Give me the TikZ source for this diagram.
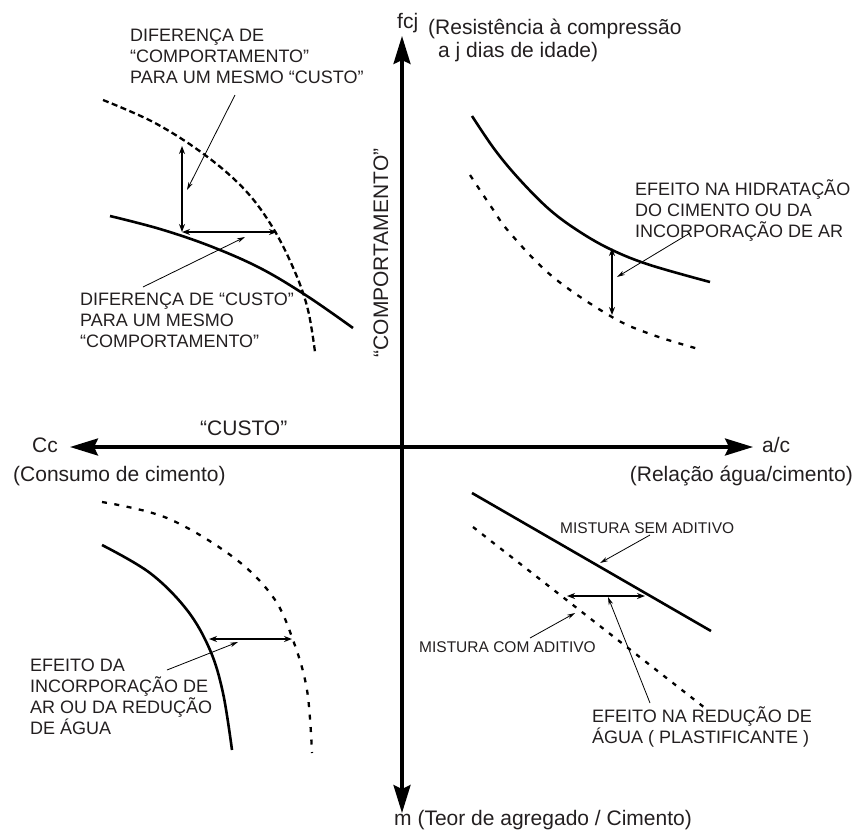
\documentclass[tikz,border=0pt]{standalone}
\usepackage{fontspec}
\setmainfont{Liberation Sans}
\usetikzlibrary{arrows.meta}
\definecolor{ink}{HTML}{231F20}

\begin{document}
\begin{tikzpicture}[x=1pt,y=-1pt,
  axis/.style={line width=3.3pt,
    {Stealth[length=28pt,width=17pt,inset=4pt]}-{Stealth[length=28pt,width=17pt,inset=4pt]}},
  curve/.style={line width=2.6pt},
  densedash/.style={line width=2.3pt, dash pattern=on 6pt off 3.5pt},
  sparsedash/.style={line width=2.3pt, dash pattern=on 5pt off 7.5pt},
  measure/.style={line width=1.9pt,
    {Stealth[length=8pt,width=6pt]}-{Stealth[length=8pt,width=6pt]}},
  pointer/.style={line width=0.8pt, -{Stealth[length=8pt,width=4.5pt]}},
  lbl/.style={font=\fontsize{18}{21}\selectfont, text=ink, align=left, inner sep=0pt, anchor=west},
  axlbl/.style={font=\fontsize{21}{22}\selectfont, text=ink, inner sep=0pt, anchor=west},
  mixlbl/.style={font=\fontsize{15.5}{18}\selectfont, text=ink, inner sep=0pt, anchor=west},
]
\useasboundingbox (0,0) rectangle (858,830);

% ---------- axes ----------
\coordinate (ytop) at (402,36);
\coordinate (ybot) at (402,813);
\coordinate (xleft) at (70,447);
\coordinate (xright) at (753,447);
\draw[axis] (ybot) -- (ytop);
\draw[axis] (xleft) -- (xright);

\node[axlbl] (fcj) at (397,23) {fcj};
\node[axlbl] (res1) at (428,29) {(Resistência à compressão};
\node[axlbl] (res2) at (438,52) {a j dias de idade)};
\node[axlbl] (cc) at (32,445) {Cc};
\node[axlbl] (consumo) at (13,476) {(Consumo de cimento)};
\node[axlbl] (ac) at (762,445) {a/c};
\node[axlbl, anchor=east] (relacao) at (853,476) {(Relação água/cimento)};
\node[axlbl] (mlbl) at (394,820) {m (Teor de agregado / Cimento)};
\node[axlbl] (custo) at (200,428) {“CUSTO”};
\node[axlbl, anchor=center, rotate=90] (comport) at (381,253) {“COMPORTAMENTO”};

% ---------- upper left: cost vs. behaviour ----------
\draw[densedash] plot[smooth, tension=0.6] coordinates
  {(103,100) (155,123) (205,155) (245,190) (273,228) (295,272) (308,310) (315,352)};
\draw[curve] plot[smooth, tension=0.6] coordinates
  {(110,216) (160,229) (210,246) (260,268) (307,296) (353,328)};
\coordinate (tlcorner) at (182,232);
\coordinate (tltop) at (182,146);
\coordinate (tlright) at (277,232);
\draw[measure] (tltop) -- (tlcorner);
\draw[measure] (tlcorner) -- (tlright);

\node[lbl] (difcomp) at (130,56) {DIFERENÇA DE\\“COMPORTAMENTO”\\PARA UM MESMO “CUSTO”};
\node[lbl] (difcusto) at (80,320) {DIFERENÇA DE “CUSTO”\\PARA UM MESMO\\“COMPORTAMENTO”};
\coordinate (p1s) at (235,95);
\coordinate (p1e) at (187,190);
\coordinate (p2s) at (143,287);
\coordinate (p2e) at (245,237);
\draw[pointer] (p1s) -- (p1e);
\draw[pointer] (p2s) -- (p2e);

% ---------- upper right: strength vs. w/c ----------
\draw[curve] plot[smooth, tension=0.6] coordinates
  {(472,116) (495,150) (520,180) (550,210) (580,232) (612,250) (650,265) (710,282)};
\draw[sparsedash] plot[smooth, tension=0.6] coordinates
  {(470,175) (490,205) (510,233) (553,277) (612,317) (653,335) (702,350)};
\coordinate (trtop) at (612,248);
\coordinate (trbot) at (612,315);
\draw[measure] (trtop) -- (trbot);
\node[lbl] (hidrat) at (635,211) {EFEITO NA HIDRATAÇÃO\\DO CIMENTO OU DA\\INCORPORAÇÃO DE AR};
\coordinate (p3s) at (690,233);
\coordinate (p3e) at (617,277);
\draw[pointer] (p3s) -- (p3e);

% ---------- lower left: cement content vs. aggregate ----------
\draw[sparsedash] plot[smooth, tension=0.6] coordinates
  {(102,502) (167,518) (233,557) (273,597) (293,640) (307,690) (312,753)};
\draw[curve] plot[smooth, tension=0.6] coordinates
  {(102,545) (150,573) (187,610) (210,650) (223,693) (232,750)};
\coordinate (blleft) at (209,639);
\coordinate (blright) at (292,639);
\draw[measure] (blleft) -- (blright);
\node[lbl] (incorp) at (30,697) {EFEITO DA\\INCORPORAÇÃO DE\\AR OU DA REDUÇÃO\\DE ÁGUA};
\coordinate (p4s) at (167,670);
\coordinate (p4e) at (238,642);
\draw[pointer] (p4s) -- (p4e);

% ---------- lower right: aggregate vs. w/c ----------
\coordinate (sem1) at (472,493);
\coordinate (sem2) at (711,631);
\coordinate (com1) at (473,527);
\coordinate (com2) at (705,708);
\draw[curve] (sem1) -- (sem2);
\draw[sparsedash, dash pattern=on 4.5pt off 7pt] (com1) -- (com2);
\coordinate (brleft) at (567,596);
\coordinate (brright) at (645,596);
\draw[measure] (brleft) -- (brright);

\node[mixlbl] (semlbl) at (560,528) {MISTURA SEM ADITIVO};
\node[mixlbl] (comlbl) at (419,647) {MISTURA COM ADITIVO};
\node[lbl] (reducao) at (592,727) {EFEITO NA REDUÇÃO DE\\ÁGUA ( PLASTIFICANTE )};
\coordinate (p5s) at (650,535);
\coordinate (p5e) at (600,563);
\coordinate (p6s) at (530,638);
\coordinate (p6e) at (575,613);
\coordinate (p7s) at (650,703);
\coordinate (p7e) at (608,597);
\draw[pointer] (p5s) -- (p5e);
\draw[pointer] (p6s) -- (p6e);
\draw[pointer] (p7s) -- (p7e);
\end{tikzpicture}
\end{document}
